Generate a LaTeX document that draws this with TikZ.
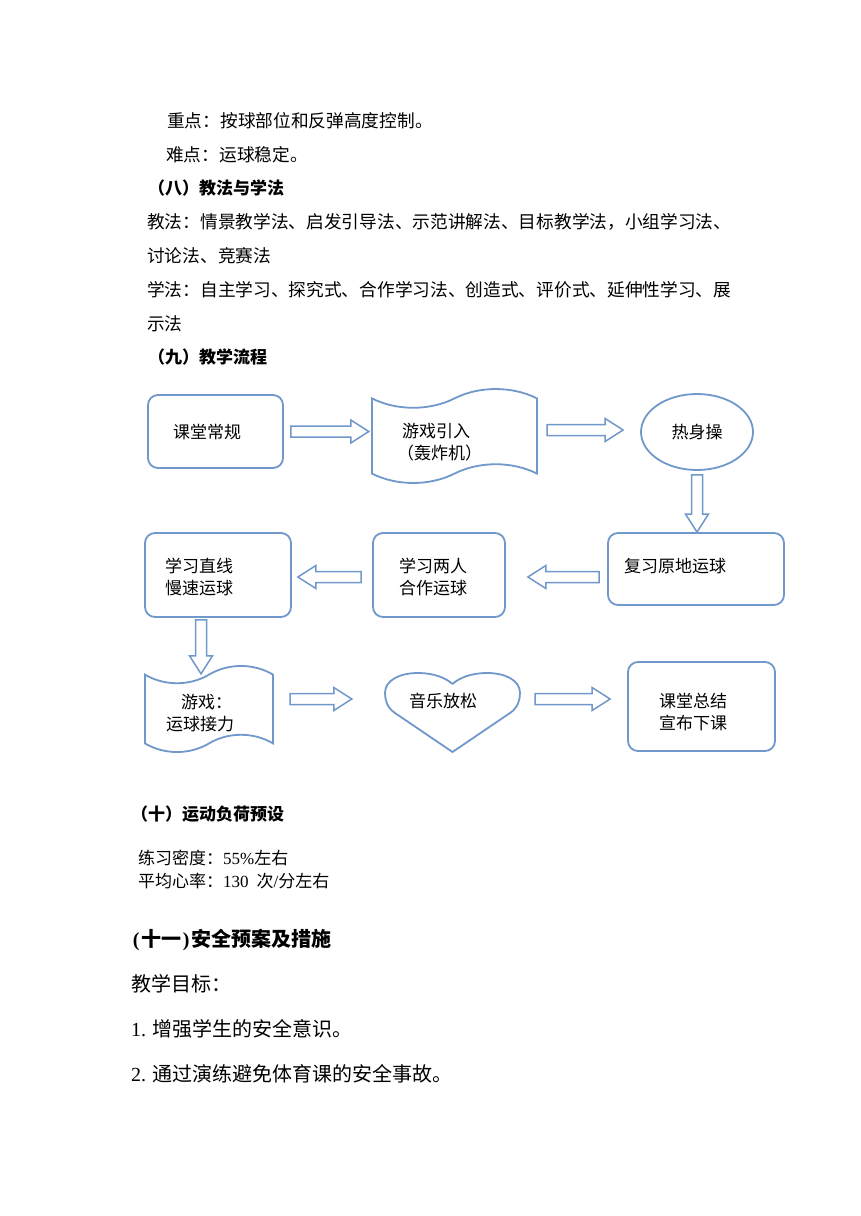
\documentclass[tikz,border=0pt]{standalone}
\usepackage{fontspec}
\setmainfont{Noto Sans CJK SC}
\newfontfamily\latin{Liberation Serif}
\usetikzlibrary{calc,shapes.geometric}
\definecolor{edge}{RGB}{112,152,202}
\begin{document}
\begin{tikzpicture}[x=1pt,y=-1pt,
  shapeline/.style={draw=edge, line width=1.8pt},
  roundbox/.style={shapeline, rounded corners=10pt, inner sep=0pt},
  ghost/.style={inner sep=0pt},
  body/.style={anchor=west, inner sep=0pt, font=\fontsize{17.7}{20}\selectfont},
  flow/.style={anchor=west, inner sep=0pt, font=\fontsize{17}{20}\selectfont},
  head/.style={anchor=west, inner sep=0pt, font=\fontsize{17}{20}\selectfont\bfseries},
  big/.style={anchor=west, inner sep=0pt, font=\fontsize{20}{24}\selectfont},
  bighead/.style={anchor=west, inner sep=0pt, font=\fontsize{20}{24}\selectfont\bfseries},
  barrow/.style={draw=edge, line width=1.5pt, fill=white, line join=miter,
    to path={($(\tikztostart)!5.5pt!90:(\tikztotarget)$)
      -- ($(\tikztotarget)!18pt!(\tikztostart)!5.5pt!90:(\tikztotarget)$)
      -- ($(\tikztotarget)!18pt!(\tikztostart)!11.5pt!90:(\tikztotarget)$)
      -- (\tikztotarget)
      -- ($(\tikztotarget)!18pt!(\tikztostart)!11.5pt!-90:(\tikztotarget)$)
      -- ($(\tikztotarget)!18pt!(\tikztostart)!5.5pt!-90:(\tikztotarget)$)
      -- ($(\tikztostart)!5.5pt!-90:(\tikztotarget)$) -- cycle}}
]
\fill[white] (0,0) rectangle (860,1216);
\useasboundingbox (0,0) rectangle (860,1216);

% ---------- upper text ----------
\node[body] (zd) at (167,121) {重点：按球部位和反弹高度控制。};
\node[body] (nd) at (166,155) {难点：运球稳定。};
\node[head] (h8) at (148,188) {（八）教法与学法};
\node[body] (jf1) at (147,222) {教法：情景教学法、启发引导法、示范讲解法、目标教学法，小组学习法、};
\node[body] (jf2) at (147,256) {讨论法、竞赛法};
\node[body] (xf1) at (147,290) {学法：自主学习、探究式、合作学习法、创造式、评价式、延伸性学习、展};
\node[body] (xf2) at (147,324) {示法};
\node[head] (h9) at (148,357) {（九）教学流程};

% ---------- flowchart shapes ----------
\node[roundbox, minimum width=135, minimum height=73] (b1) at (215.5,431.5) {};
\node[flow] (b1t) at (173,432) {课堂常规};

% tape 1
\draw[shapeline] (372,398.4) .. controls (396.75,410.9) and (429.75,410.9) .. (454.5,398.4)
  .. controls (479.25,385.9) and (512.25,385.9) .. (537,398.4) -- (537,473.6)
  .. controls (512.25,461.1) and (479.25,461.1) .. (454.5,473.6)
  .. controls (429.75,486.1) and (396.75,486.1) .. (372,473.6) -- cycle;
\node[ghost, minimum width=165, minimum height=94] (t1) at (454.5,436) {};
\node[flow] (t1a) at (402,431) {游戏引入};
\node[flow] (t1b) at (397,453) {（轰炸机）};

\node[shapeline, ellipse, minimum width=112, minimum height=76, inner sep=0pt] (e1) at (697,432) {};
\node[flow, anchor=center] (e1t) at (697,432) {热身操};

\node[roundbox, minimum width=176, minimum height=72] (b2) at (696,569) {};
\node[flow] (b2t) at (624,566) {复习原地运球};

\node[roundbox, minimum width=132, minimum height=84] (b3) at (439,575) {};
\node[flow] (b3a) at (399,566) {学习两人};
\node[flow] (b3b) at (399,588) {合作运球};

\node[roundbox, minimum width=146, minimum height=84] (b4) at (218,575) {};
\node[flow] (b4a) at (165,566) {学习直线};
\node[flow] (b4b) at (165,588) {慢速运球};

% tape 2
\draw[shapeline] (145,674.6) .. controls (164.2,686.1) and (189.8,686.1) .. (209,674.6)
  .. controls (228.2,663.1) and (253.8,663.1) .. (273,674.6) -- (273,743.4)
  .. controls (253.8,731.9) and (228.2,731.9) .. (209,743.4)
  .. controls (189.8,754.9) and (164.2,754.9) .. (145,743.4) -- cycle;
\node[ghost, minimum width=128, minimum height=86] (t2) at (209,709) {};
\node[flow] (t2a) at (181,702) {游戏：};
\node[flow] (t2b) at (166,724) {运球接力};

% heart
\draw[shapeline, line join=round] (452.5,684)
  .. controls (459,678) and (471,673) .. (487,673)
  .. controls (505,673) and (520,680) .. (520,693)
  .. controls (520,700) and (518,707.5) .. (510,713)
  -- (452.5,752) -- (395,713)
  .. controls (387,707.5) and (385,700) .. (385,693)
  .. controls (385,680) and (400,673) .. (418,673)
  .. controls (434,673) and (446,678) .. (452.5,684) -- cycle;
\node[ghost, minimum width=135, minimum height=79] (h1) at (452.5,712.5) {};
\node[flow] (h1t) at (409,701) {音乐放松};

\node[roundbox, minimum width=147, minimum height=89] (b5) at (701.5,706.5) {};
\node[flow] (b5a) at (659,701) {课堂总结};
\node[flow] (b5b) at (659,723) {宣布下课};

% ---------- block arrows ----------
\draw[barrow] ($(b1.east)+(7,0)$) to ($(t1.west |- b1.east)+(-3,0)$);
\draw[barrow] ($(t1.east |- e1.west)+(10,-2)$) to ($(e1.west)+(-17,-2)$);
\draw[barrow] ($(e1.south)+(0,4)$) to ($(e1.south |- b2.north)$);
\draw[barrow] ($(b2.west)+(-8,8)$) to ($(b3.east)+(22,2)$);
\draw[barrow] ($(b3.west)+(-11,2)$) to ($(b4.east)+(6,2)$);
\draw[barrow] ($(b4.south)+(-17,2)$) to ($(t2.north)+(-8,8)$);
\draw[barrow] ($(t2.east)+(17,-10)$) to ($(h1.west)+(-33,-13.5)$);
\draw[barrow] ($(h1.east)+(15,-13.5)$) to ($(b5.west)+(-17,-7.5)$);

% ---------- lower text ----------
\node[head] (h10) at (131,814) {（十）运动负荷预设};
\node[flow] (md) at (138,858) {练习密度：{\latin 55\%}左右};
\node[flow] (xl) at (138,881) {平均心率：{\latin 130}\hspace{8pt}次{\latin /}分左右};
\node[bighead] (h11) at (131,940) {\makebox[10pt][c]{\latin (}十一\makebox[10pt][c]{\latin )}安全预案及措施};
\node[big] (mb) at (131,984) {教学目标：};
\node[big] (m1) at (131,1029) {{\latin 1.}\hspace{6pt}增强学生的安全意识。};
\node[big] (m2) at (131,1074) {{\latin 2.}\hspace{6pt}通过演练避免体育课的安全事故。};
\end{tikzpicture}
\end{document}
